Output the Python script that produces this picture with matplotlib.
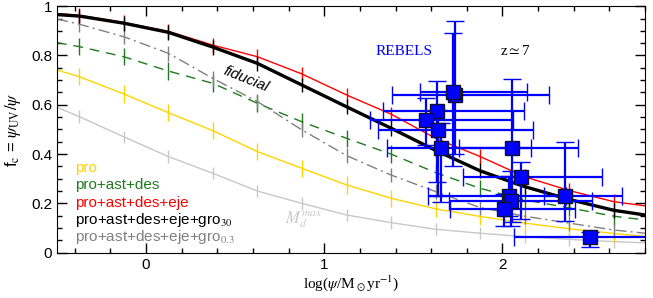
import matplotlib
matplotlib.use("Agg")
import matplotlib.pyplot as plt
import numpy as np

plt.rcParams['font.family'] = 'Liberation Sans'
plt.rcParams['font.serif'] = ['Liberation Serif']
plt.rcParams['mathtext.fontset'] = 'stix'

# model curves, log(psi) grid (ticks at the inner points)
lx = np.array([-0.5, -0.375, -0.125, 0.125, 0.375, 0.625, 0.875, 1.125, 1.375,
               1.625, 1.875, 2.125, 2.375, 2.625, 2.8])
f_pro = [0.741, 0.714, 0.644, 0.568, 0.495, 0.41, 0.342, 0.275, 0.221,
         0.178, 0.147, 0.12, 0.097, 0.078, 0.066]
f_des = [0.852, 0.836, 0.795, 0.737, 0.687, 0.606, 0.531, 0.464, 0.40,
         0.325, 0.261, 0.214, 0.182, 0.148, 0.133]
f_eje = [0.97, 0.963, 0.934, 0.898, 0.842, 0.795, 0.725, 0.64, 0.562,
         0.464, 0.39, 0.308, 0.252, 0.207, 0.19]
f_g30 = [0.966, 0.96, 0.931, 0.894, 0.834, 0.768, 0.680, 0.592, 0.505,
         0.415, 0.332, 0.268, 0.216, 0.172, 0.153]
f_g03 = [0.948, 0.927, 0.876, 0.809, 0.707, 0.613, 0.498, 0.394, 0.315,
         0.248, 0.183, 0.148, 0.12, 0.092, 0.079]
f_mdmax = [0.59, 0.552, 0.47, 0.39, 0.322, 0.25, 0.2, 0.153, 0.122,
           0.095, 0.079, 0.065, 0.054, 0.045, 0.04]

# REBELS z~7
reb_x = [1.731, 1.720, 1.630, 1.569, 1.641, 1.653, 2.056, 2.106, 2.034, 2.050, 2.006, 2.353, 2.493]
reb_y = [0.640, 0.652, 0.575, 0.538, 0.498, 0.425, 0.425, 0.307, 0.230, 0.210, 0.177, 0.228, 0.062]
reb_xlo = [0.35, 0.185, 0.30, 0.31, 0.34, 0.30, 0.30, 0.33, 0.45, 0.35, 0.30, 0.12, 0.43]
reb_xhi = [0.53, 0.42, 0.49, 0.49, 0.53, 0.51, 0.37, 0.45, 0.32, 0.45, 0.40, 0.32, 0.35]
reb_ylo = [0.24, 0.30, 0.29, 0.10, 0.27, 0.22, 0.30, 0.17, 0.08, 0.10, 0.07, 0.10, 0.037]
reb_yhi = [0.30, 0.24, 0.12, 0.09, 0.08, 0.10, 0.28, 0.06, 0.08, 0.12, 0.06, 0.22, 0.023]

fig = plt.figure(figsize=(6.53, 2.98), dpi=100)
ax = fig.add_axes([57/653, 1-252.7/298, 588/653, 246.5/298])

models = [
    (f_mdmax, '#c8c8c8', '-', 1.0, 0.025),
    (f_pro, '#ffd400', '-', 1.0, 0.035),
    (f_des, '#1f7a1f', (0, (7, 5)), 1.0, 0.035),
    (f_g03, '#808080', (0, (8, 3, 1.5, 3)), 1.0, 0.03),
    (f_eje, '#ff0000', '-', 1.0, 0.03),
    (f_g30, '#000000', '-', 2.4, 0.03),
]
for fy, col, ls, lw, tk in models:
    ax.plot(lx, fy, color=col, ls=ls, lw=lw, zorder=2)
    ax.errorbar(lx[1:-1], fy[1:-1], yerr=tk, fmt='none', ecolor=col,
                elinewidth=1.0, capsize=0, zorder=2)

ax.errorbar(reb_x, reb_y, xerr=[reb_xlo, reb_xhi], yerr=[reb_ylo, reb_yhi],
            fmt='s', color='#0000ff', ms=9.5, mfc='#0000ff', mec='#101030', mew=1.0,
            ecolor='#0000ff', elinewidth=1.6, capsize=6.5, capthick=1.6, zorder=3)

ax.set_xlim(-0.5, 2.8)
ax.set_ylim(0, 1)
ax.set_xticks([0, 1, 2])
ax.set_xticks(np.arange(-0.4, 2.81, 0.2), minor=True)
ax.set_yticks([0, 0.2, 0.4, 0.6, 0.8, 1])
ax.set_yticklabels(['0', '0.2', '0.4', '0.6', '0.8', '1'])
ax.set_yticks(np.arange(0, 1.001, 0.05), minor=True)
ax.tick_params(which='both', direction='in', top=True, right=True, labelsize=11)
ax.tick_params(which='major', length=7, width=1)
ax.tick_params(which='minor', length=3.5, width=1)

ax.set_xlabel(r'log($\psi$/M$_\odot$yr$^{-1}$)', family='serif', fontsize=11, labelpad=1)
ax.set_ylabel(r'f$_{\rm c}$ = $\psi_{\rm UV}/\psi$', fontsize=12, labelpad=6)

ax.text(-0.398, 0.327, 'pro', color='#ffd400', fontsize=11, va='baseline')
ax.text(-0.398, 0.258, 'pro+ast+des', color='#1f7a1f', fontsize=11, va='baseline')
ax.text(-0.398, 0.186, 'pro+ast+des+eje', color='#ff0000', fontsize=11, va='baseline')
ax.text(-0.398, 0.117, r'pro+ast+des+eje+gro$_{\rm 30}$', color='#000000', fontsize=11, va='baseline')
ax.text(-0.398, 0.048, r'pro+ast+des+eje+gro$_{\rm 0.3}$', color='#808080', fontsize=11, va='baseline')

ax.text(0.56, 0.705, 'fiducial', style='italic', fontsize=11, rotation=-22,
        ha='center', va='center')
ax.text(0.885, 0.135, r'$M_d^{max}$', color='#c8c8c8', fontsize=12, ha='center', va='center')
ax.text(1.45, 0.818, 'REBELS', color='#0000ff', family='serif', fontsize=11,
        ha='center', va='center')
ax.text(2.07, 0.818, r'z$\simeq$7', color='black', family='serif', fontsize=11,
        ha='center', va='center')

fig.savefig('out.png', dpi=100)
